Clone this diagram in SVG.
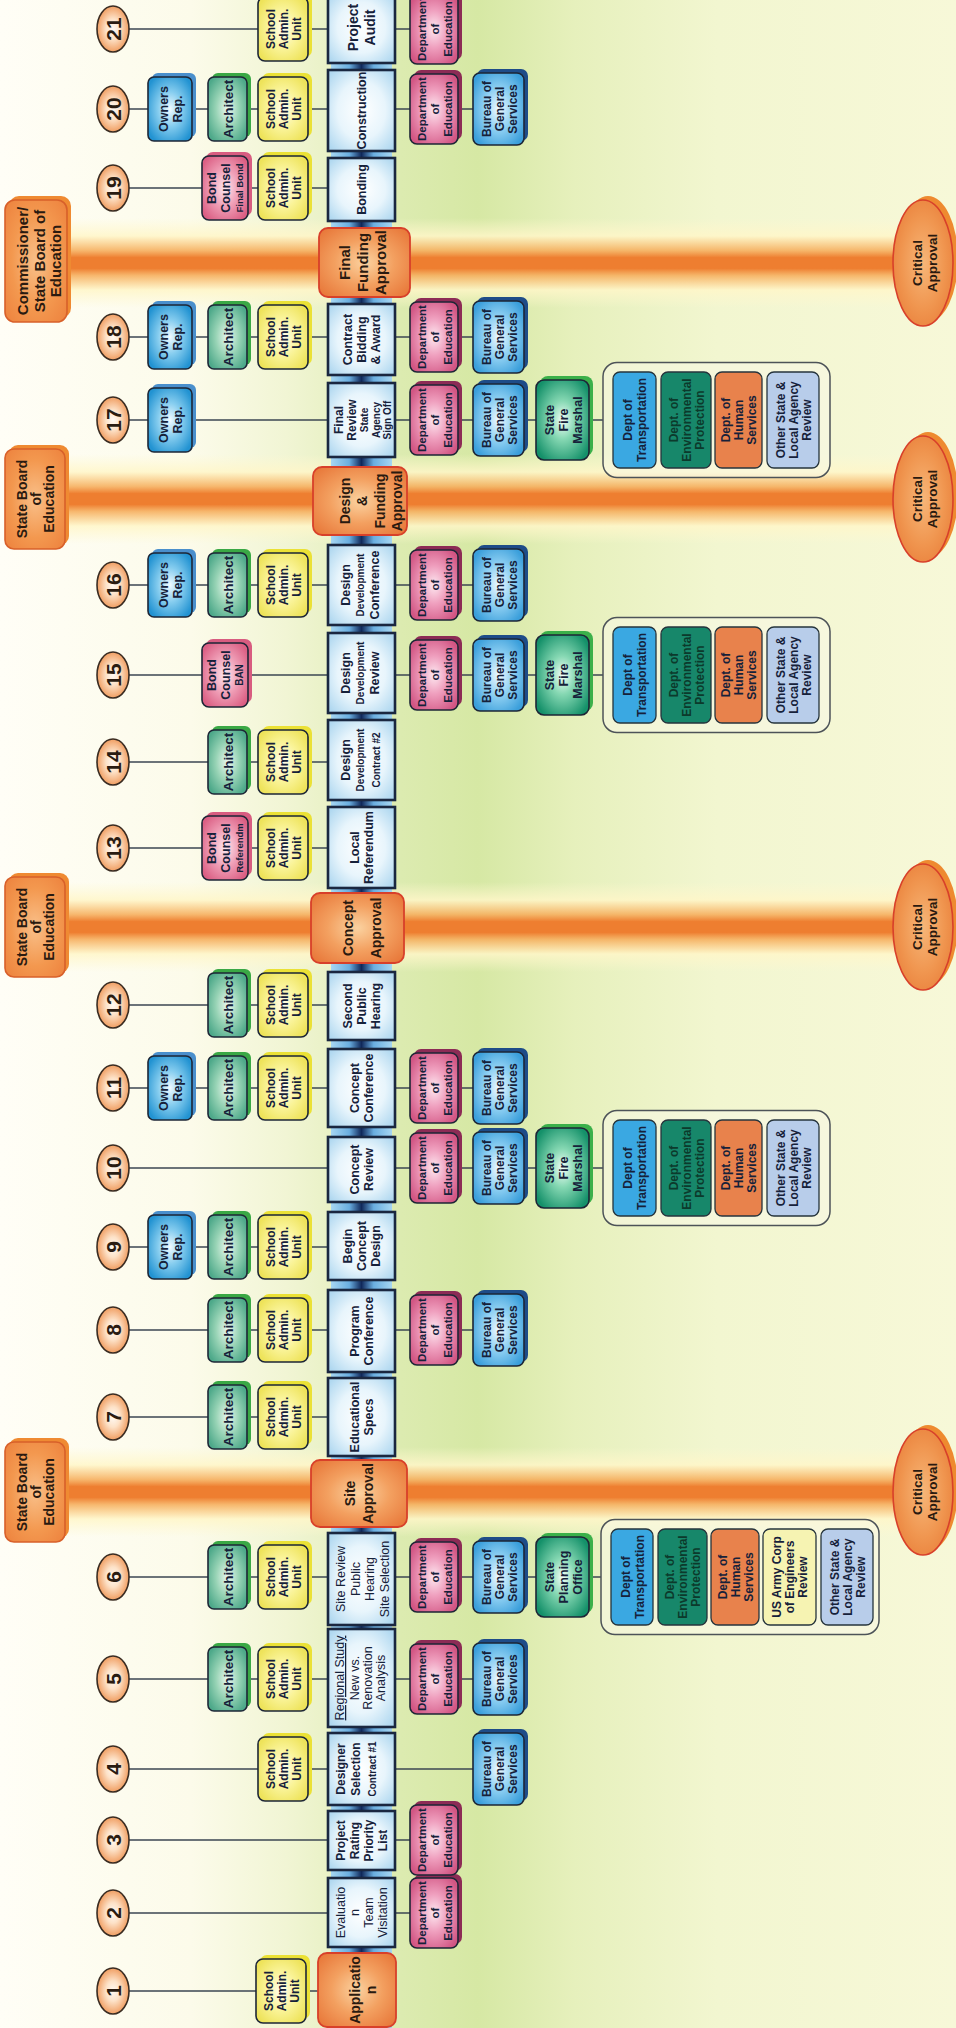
<svg xmlns="http://www.w3.org/2000/svg" width="956" height="2028" viewBox="0 0 956 2028">
<defs>
<style>
.f{font-family:"Liberation Sans",Arial,Helvetica,sans-serif;font-weight:bold;fill:#16213a;text-anchor:middle}
.fn{font-weight:normal}
.z9{font-size:9.5px}.z10{font-size:10px}.z115{font-size:11.5px}.z12{font-size:12px}.z125{font-size:12.5px}.z13{font-size:13.5px}.z14{font-size:14px}.z15{font-size:15px}.z21{font-size:21px}
.ln{stroke:#3b4652;stroke-width:1.6;fill:none}
.bx{stroke:#1d2636;stroke-width:1.6}
.mb{fill:url(#gMain);stroke:#1a2740;stroke-width:2.6}
.ap{fill:url(#gApp);stroke:#d8402a;stroke-width:1.8}
.ov{fill:url(#gOval);stroke:#3a2c22;stroke-width:1.6}
.own{fill:url(#gOwn)}.ownS{fill:#4a8fcc}
.arc{fill:url(#gArc)}.arcS{fill:#3aa845}
.sau{fill:url(#gSau)}.sauS{fill:#ebe135}
.bnd{fill:url(#gBnd)}.bndS{fill:#d85c80}
.doe{fill:url(#gDoe)}.doeS{fill:#8c2b55}
.bgs{fill:url(#gBgs)}.bgsS{fill:#1e4c88}
.sfm{fill:url(#gSfm)}.sfmS{fill:#3bb04a}
.brd{fill:url(#gBrd);stroke:#d8602a;stroke-width:1.6}.brdS{fill:#ef8a32}
.grp{fill:#f7f8e6;fill-opacity:.55;stroke:#4d5358;stroke-width:1.5}
.it{stroke:#26343c;stroke-width:1.3}
.iT{fill:#3aa8e2}.iE{fill:#17876a}.iH{fill:#e8824c}.iU{fill:#f6f3b2}.iO{fill:#b8cdea}
.bar{fill:url(#gBar)}
.crS{fill:#ee8a30}.cr{fill:url(#gCrit);stroke:#d8402a;stroke-width:1.6}
.num{fill:#2a1c12}
.dk{fill:#0c3a2c}
.or{fill:#2a1a10}
</style>
<linearGradient id="bg" x1="0" y1="0" x2="1" y2="0">
<stop offset="0" stop-color="#fffef6"/><stop offset="0.2" stop-color="#fcfbea"/><stop offset="0.3" stop-color="#f1f5d4"/><stop offset="0.42" stop-color="#dcebb0"/><stop offset="0.5" stop-color="#d6e8a4"/><stop offset="0.6" stop-color="#e6f0bc"/><stop offset="0.75" stop-color="#f2f6d0"/><stop offset="1" stop-color="#f7f8d8"/>
</linearGradient>
<linearGradient id="gBar" x1="0" y1="0" x2="1" y2="0">
<stop offset="0" stop-color="#fff8d0" stop-opacity="0"/><stop offset="0.2" stop-color="#fff6c8" stop-opacity="0.85"/><stop offset="0.36" stop-color="#f6b060" stop-opacity="0.9"/><stop offset="0.44" stop-color="#ee7e30"/><stop offset="0.56" stop-color="#ee7e30"/><stop offset="0.64" stop-color="#f6b060" stop-opacity="0.9"/><stop offset="0.8" stop-color="#fff6c8" stop-opacity="0.85"/><stop offset="1" stop-color="#fff8d0" stop-opacity="0"/>
</linearGradient>
<linearGradient id="gPipe" x1="0" y1="0" x2="0" y2="1">
<stop offset="0" stop-color="#a6d6f2"/><stop offset="0.3" stop-color="#6aaee0"/><stop offset="0.5" stop-color="#10285a"/><stop offset="0.7" stop-color="#6aaee0"/><stop offset="1" stop-color="#a6d6f2"/>
</linearGradient>
<radialGradient id="gOwn" r="0.6"><stop offset="0" stop-color="#f2fbff"/><stop offset="0.45" stop-color="#86cdef"/><stop offset="1" stop-color="#2293d2"/></radialGradient>
<radialGradient id="gArc" r="0.6"><stop offset="0" stop-color="#eaf7ef"/><stop offset="0.5" stop-color="#97d3b5"/><stop offset="1" stop-color="#4ea98a"/></radialGradient>
<radialGradient id="gSau" r="0.6"><stop offset="0" stop-color="#fffef0"/><stop offset="0.5" stop-color="#faf49a"/><stop offset="1" stop-color="#eee35a"/></radialGradient>
<radialGradient id="gBnd" r="0.6"><stop offset="0" stop-color="#fde8ef"/><stop offset="0.5" stop-color="#ef9eb6"/><stop offset="1" stop-color="#db5f84"/></radialGradient>
<radialGradient id="gDoe" r="0.6"><stop offset="0" stop-color="#fde9f1"/><stop offset="0.45" stop-color="#ef9fbe"/><stop offset="1" stop-color="#d25684"/></radialGradient>
<radialGradient id="gBgs" r="0.6"><stop offset="0" stop-color="#eff9ff"/><stop offset="0.45" stop-color="#94d3f4"/><stop offset="1" stop-color="#3b9fdb"/></radialGradient>
<radialGradient id="gSfm" r="0.6"><stop offset="0" stop-color="#f4fff9"/><stop offset="0.4" stop-color="#86d8b3"/><stop offset="1" stop-color="#15916a"/></radialGradient>
<radialGradient id="gMain" r="0.65"><stop offset="0" stop-color="#ffffff"/><stop offset="0.55" stop-color="#e8f5fc"/><stop offset="1" stop-color="#b0d8f0"/></radialGradient>
<radialGradient id="gApp" r="0.65"><stop offset="0" stop-color="#fbd2a0"/><stop offset="0.5" stop-color="#f3a060"/><stop offset="1" stop-color="#e8783a"/></radialGradient>
<radialGradient id="gOval" r="0.55"><stop offset="0" stop-color="#fffaf4"/><stop offset="0.4" stop-color="#fde2c8"/><stop offset="1" stop-color="#ee9250"/></radialGradient>
<radialGradient id="gCrit" r="0.6"><stop offset="0" stop-color="#f7b678"/><stop offset="0.6" stop-color="#f09650"/><stop offset="1" stop-color="#e97f3a"/></radialGradient>
<radialGradient id="gBrd" r="0.65"><stop offset="0" stop-color="#f9c08a"/><stop offset="0.6" stop-color="#f3984f"/><stop offset="1" stop-color="#ee8540"/></radialGradient>
</defs>
<rect width="956" height="2028" fill="url(#bg)"/>
<g id="diagram" transform="translate(0,2028) rotate(-90)">

<g id="approval-bars">
<rect class="bar" x="491" y="62" width="90" height="835"/>
<rect class="bar" x="1056" y="62" width="90" height="835"/>
<rect class="bar" x="1484" y="62" width="90" height="835"/>
<rect class="bar" x="1720" y="62" width="90" height="835"/>
</g>

<g id="board-site" transform="translate(536,35)"><rect class="brdS" x="-46" y="-26" width="100" height="60" rx="9"/><rect class="brd" x="-50" y="-30" width="100" height="60" rx="9"/><text class="f z14 or"><tspan x="0" y="-8">State Board</tspan><tspan x="0" y="5.5">of</tspan><tspan x="0" y="19">Education</tspan></text></g>
<g id="board-concept" transform="translate(1101,35)"><rect class="brdS" x="-46" y="-26" width="100" height="60" rx="9"/><rect class="brd" x="-50" y="-30" width="100" height="60" rx="9"/><text class="f z14 or"><tspan x="0" y="-8">State Board</tspan><tspan x="0" y="5.5">of</tspan><tspan x="0" y="19">Education</tspan></text></g>
<g id="board-design" transform="translate(1529,35)"><rect class="brdS" x="-46" y="-26" width="100" height="60" rx="9"/><rect class="brd" x="-50" y="-30" width="100" height="60" rx="9"/><text class="f z14 or"><tspan x="0" y="-8">State Board</tspan><tspan x="0" y="5.5">of</tspan><tspan x="0" y="19">Education</tspan></text></g>
<g id="board-final" transform="translate(1767,36)"><rect class="brdS" x="-57" y="-27" width="122" height="62" rx="10"/><rect class="brd" x="-61" y="-31" width="122" height="62" rx="10"/><text class="f z15 or"><tspan x="0" y="-8">Commissioner/</tspan><tspan x="0" y="8.5">State Board of</tspan><tspan x="0" y="25">Education</tspan></text></g>

<g id="critical-site" transform="translate(536,923)"><ellipse class="crS" cx="4" cy="5" rx="63" ry="30"/><ellipse class="cr" rx="63" ry="30"/><text class="f z13 or"><tspan x="0" y="-1">Critical</tspan><tspan x="0" y="14">Approval</tspan></text></g>
<g id="critical-concept" transform="translate(1101,923)"><ellipse class="crS" cx="4" cy="5" rx="63" ry="30"/><ellipse class="cr" rx="63" ry="30"/><text class="f z13 or"><tspan x="0" y="-1">Critical</tspan><tspan x="0" y="14">Approval</tspan></text></g>
<g id="critical-design" transform="translate(1529,923)"><ellipse class="crS" cx="4" cy="5" rx="63" ry="30"/><ellipse class="cr" rx="63" ry="30"/><text class="f z13 or"><tspan x="0" y="-1">Critical</tspan><tspan x="0" y="14">Approval</tspan></text></g>
<g id="critical-final" transform="translate(1765,923)"><ellipse class="crS" cx="4" cy="5" rx="63" ry="30"/><ellipse class="cr" rx="63" ry="30"/><text class="f z13 or"><tspan x="0" y="-1">Critical</tspan><tspan x="0" y="14">Approval</tspan></text></g>

<g id="connectors">
<rect id="pipe" x="0" y="331" width="2028" height="61" fill="url(#gPipe)"/>
<line class="ln" x1="37" y1="129" x2="37" y2="318"/>
<line class="ln" x1="115" y1="129" x2="115" y2="410"/>
<line class="ln" x1="188" y1="129" x2="188" y2="410"/>
<line class="ln" x1="259" y1="129" x2="259" y2="473"/>
<line class="ln" x1="349" y1="129" x2="349" y2="473"/>
<line class="ln" x1="451" y1="129" x2="451" y2="601"/>
<line class="ln" x1="611" y1="129" x2="611" y2="328"/>
<line class="ln" x1="698" y1="129" x2="698" y2="473"/>
<line class="ln" x1="781" y1="129" x2="781" y2="328"/>
<line class="ln" x1="860" y1="129" x2="860" y2="603"/>
<line class="ln" x1="940" y1="129" x2="940" y2="473"/>
<line class="ln" x1="1023" y1="129" x2="1023" y2="328"/>
<line class="ln" x1="1180" y1="129" x2="1180" y2="328"/>
<line class="ln" x1="1266" y1="129" x2="1266" y2="328"/>
<line class="ln" x1="1353" y1="129" x2="1353" y2="603"/>
<line class="ln" x1="1443" y1="129" x2="1443" y2="473"/>
<line class="ln" x1="1608" y1="129" x2="1608" y2="603"/>
<line class="ln" x1="1691" y1="129" x2="1691" y2="473"/>
<line class="ln" x1="1840" y1="129" x2="1840" y2="328"/>
<line class="ln" x1="1919" y1="129" x2="1919" y2="473"/>
<line class="ln" x1="1999" y1="129" x2="1999" y2="410"/>
</g>

<!-- main column -->
<g id="task-1"><rect class="ap" x="1" y="318" width="74" height="78" rx="9"/><text class="f z14 or"><tspan x="38" y="360">Applicatio</tspan><tspan x="38" y="376">n</tspan></text></g>
<g id="task-2"><rect class="mb" x="81" y="328" width="69" height="67"/><text class="f fn z125"><tspan x="115.5" y="345">Evaluatio</tspan><tspan x="115.5" y="359">n</tspan><tspan x="115.5" y="373">Team</tspan><tspan x="115.5" y="387">Visitation</tspan></text></g>
<g id="task-3"><rect class="mb" x="158" y="328" width="59" height="67"/><text class="f z12"><tspan x="187.5" y="345">Project</tspan><tspan x="187.5" y="359">Rating</tspan><tspan x="187.5" y="373">Priority</tspan><tspan x="187.5" y="387">List</tspan></text></g>
<g id="task-4"><rect class="mb" x="223" y="328" width="72" height="67"/><text class="f z12"><tspan x="259" y="345">Designer</tspan><tspan x="259" y="359.5">Selection</tspan><tspan x="259" y="376" class="z10">Contract #1</tspan></text></g>
<g id="task-5"><rect class="mb" x="301" y="328" width="98" height="67"/><text class="f fn z125"><tspan x="350" y="344" text-decoration="underline">Regional Study</tspan><tspan x="350" y="359">New vs.</tspan><tspan x="350" y="372">Renovation</tspan><tspan x="350" y="385">Analysis</tspan></text></g>
<g id="task-6"><rect class="mb" x="403" y="328" width="92" height="67"/><text class="f fn z125"><tspan x="449" y="345">Site Review</tspan><tspan x="449" y="360">Public</tspan><tspan x="449" y="374">Hearing</tspan><tspan x="449" y="389">Site Selection</tspan></text></g>
<g id="site-approval"><rect class="ap" x="501" y="311" width="67" height="96" rx="9"/><text class="f z14 or"><tspan x="534.5" y="355">Site</tspan><tspan x="534.5" y="373">Approval</tspan></text></g>
<g id="task-7"><rect class="mb" x="572" y="328" width="78" height="67"/><text class="f z125"><tspan x="611" y="359">Educational</tspan><tspan x="611" y="373">Specs</tspan></text></g>
<g id="task-8"><rect class="mb" x="656" y="328" width="82" height="67"/><text class="f z125"><tspan x="697" y="359">Program</tspan><tspan x="697" y="373">Conference</tspan></text></g>
<g id="task-9"><rect class="mb" x="748" y="328" width="68" height="67"/><text class="f z125"><tspan x="782" y="352">Begin</tspan><tspan x="782" y="366">Concept</tspan><tspan x="782" y="380">Design</tspan></text></g>
<g id="task-10"><rect class="mb" x="826" y="328" width="65" height="67"/><text class="f z125"><tspan x="858.5" y="359">Concept</tspan><tspan x="858.5" y="373">Review</tspan></text></g>
<g id="task-11"><rect class="mb" x="901" y="328" width="78" height="67"/><text class="f z125"><tspan x="940" y="359">Concept</tspan><tspan x="940" y="373">Conference</tspan></text></g>
<g id="task-12"><rect class="mb" x="988" y="328" width="68" height="67"/><text class="f z125"><tspan x="1022" y="352">Second</tspan><tspan x="1022" y="366">Public</tspan><tspan x="1022" y="380">Hearing</tspan></text></g>
<g id="concept-approval"><rect class="ap" x="1065" y="311" width="70" height="93" rx="9"/><text class="f z14 or"><tspan x="1100" y="353">Concept</tspan><tspan x="1100" y="381">Approval</tspan></text></g>
<g id="task-13"><rect class="mb" x="1140" y="328" width="81" height="67"/><text class="f z125"><tspan x="1180.5" y="359">Local</tspan><tspan x="1180.5" y="373">Referendum</tspan></text></g>
<g id="task-14"><rect class="mb" x="1228" y="328" width="80" height="67"/><text class="f z125"><tspan x="1268" y="350">Design</tspan><tspan x="1268" y="364" class="z10">Development</tspan><tspan x="1268" y="380" class="z10">Contract  #2</tspan></text></g>
<g id="task-15"><rect class="mb" x="1315" y="328" width="80" height="67"/><text class="f z125"><tspan x="1355" y="350">Design</tspan><tspan x="1355" y="364" class="z10">Development</tspan><tspan x="1355" y="379">Review</tspan></text></g>
<g id="task-16"><rect class="mb" x="1403" y="328" width="80" height="67"/><text class="f z125"><tspan x="1443" y="350">Design</tspan><tspan x="1443" y="364" class="z10">Development</tspan><tspan x="1443" y="379">Conference</tspan></text></g>
<g id="design-funding-approval"><rect class="ap" x="1493" y="313" width="68" height="94" rx="9"/><text class="f z14 or"><tspan x="1527" y="350">Design</tspan><tspan x="1527" y="367">&amp;</tspan><tspan x="1527" y="385">Funding</tspan><tspan x="1527" y="402">Approval</tspan></text></g>
<g id="task-17"><rect class="mb" x="1571" y="328" width="74" height="67"/><text class="f z12"><tspan x="1608" y="343">Final</tspan><tspan x="1608" y="356">Review</tspan><tspan x="1608" y="368" class="z10">State</tspan><tspan x="1608" y="380" class="z10">Agency</tspan><tspan x="1608" y="391" class="z10">Sign Off</tspan></text></g>
<g id="task-18"><rect class="mb" x="1653" y="328" width="71" height="67"/><text class="f z125"><tspan x="1688.5" y="352">Contract</tspan><tspan x="1688.5" y="366">Bidding</tspan><tspan x="1688.5" y="380">&amp; Award</tspan></text></g>
<g id="final-funding-approval"><rect class="ap" x="1731" y="319" width="69" height="91" rx="9"/><text class="f z15 or"><tspan x="1765.5" y="350">Final</tspan><tspan x="1765.5" y="368">Funding</tspan><tspan x="1765.5" y="386">Approval</tspan></text></g>
<g id="task-19"><rect class="mb" x="1807" y="328" width="63" height="67"/><text class="f z125"><tspan x="1838.5" y="366">Bonding</tspan></text></g>
<g id="task-20"><rect class="mb" x="1877" y="328" width="81" height="67"/><text class="f z125"><tspan x="1917.5" y="366">Construction</tspan></text></g>
<g id="task-21"><rect class="mb" x="1965" y="328" width="71" height="67"/><text class="f z14"><tspan x="2000.5" y="358">Project</tspan><tspan x="2000.5" y="375">Audit</tspan></text></g>

<!-- step number ovals -->
<g id="step-1" transform="translate(37,113)"><ellipse class="ov" rx="23" ry="16"/><text class="f z21 num" y="7.5">1</text></g>
<g id="step-2" transform="translate(115,113)"><ellipse class="ov" rx="23" ry="16"/><text class="f z21 num" y="7.5">2</text></g>
<g id="step-3" transform="translate(188,113)"><ellipse class="ov" rx="23" ry="16"/><text class="f z21 num" y="7.5">3</text></g>
<g id="step-4" transform="translate(259,113)"><ellipse class="ov" rx="23" ry="16"/><text class="f z21 num" y="7.5">4</text></g>
<g id="step-5" transform="translate(349,113)"><ellipse class="ov" rx="23" ry="16"/><text class="f z21 num" y="7.5">5</text></g>
<g id="step-6" transform="translate(451,113)"><ellipse class="ov" rx="23" ry="16"/><text class="f z21 num" y="7.5">6</text></g>
<g id="step-7" transform="translate(611,113)"><ellipse class="ov" rx="23" ry="16"/><text class="f z21 num" y="7.5">7</text></g>
<g id="step-8" transform="translate(698,113)"><ellipse class="ov" rx="23" ry="16"/><text class="f z21 num" y="7.5">8</text></g>
<g id="step-9" transform="translate(781,113)"><ellipse class="ov" rx="23" ry="16"/><text class="f z21 num" y="7.5">9</text></g>
<g id="step-10" transform="translate(860,113)"><ellipse class="ov" rx="23" ry="16"/><text class="f z21 num" y="7.5">10</text></g>
<g id="step-11" transform="translate(940,113)"><ellipse class="ov" rx="23" ry="16"/><text class="f z21 num" y="7.5">11</text></g>
<g id="step-12" transform="translate(1023,113)"><ellipse class="ov" rx="23" ry="16"/><text class="f z21 num" y="7.5">12</text></g>
<g id="step-13" transform="translate(1180,113)"><ellipse class="ov" rx="23" ry="16"/><text class="f z21 num" y="7.5">13</text></g>
<g id="step-14" transform="translate(1266,113)"><ellipse class="ov" rx="23" ry="16"/><text class="f z21 num" y="7.5">14</text></g>
<g id="step-15" transform="translate(1353,113)"><ellipse class="ov" rx="23" ry="16"/><text class="f z21 num" y="7.5">15</text></g>
<g id="step-16" transform="translate(1443,113)"><ellipse class="ov" rx="23" ry="16"/><text class="f z21 num" y="7.5">16</text></g>
<g id="step-17" transform="translate(1608,113)"><ellipse class="ov" rx="23" ry="16"/><text class="f z21 num" y="7.5">17</text></g>
<g id="step-18" transform="translate(1691,113)"><ellipse class="ov" rx="23" ry="16"/><text class="f z21 num" y="7.5">18</text></g>
<g id="step-19" transform="translate(1840,113)"><ellipse class="ov" rx="23" ry="16"/><text class="f z21 num" y="7.5">19</text></g>
<g id="step-20" transform="translate(1919,113)"><ellipse class="ov" rx="23" ry="16"/><text class="f z21 num" y="7.5">20</text></g>
<g id="step-21" transform="translate(1999,113)"><ellipse class="ov" rx="23" ry="16"/><text class="f z21 num" y="7.5">21</text></g>

<!-- owners rep -->
<g id="s9-owner" transform="translate(781,170)"><rect class="ownS" x="-28" y="-18" width="64" height="44" rx="6"/><rect class="own bx" x="-32" y="-22" width="64" height="44" rx="6"/><text class="f z125"><tspan x="0" y="-2">Owners</tspan><tspan x="0" y="12">Rep.</tspan></text></g>
<g id="s11-owner" transform="translate(940,170)"><rect class="ownS" x="-28" y="-18" width="64" height="44" rx="6"/><rect class="own bx" x="-32" y="-22" width="64" height="44" rx="6"/><text class="f z125"><tspan x="0" y="-2">Owners</tspan><tspan x="0" y="12">Rep.</tspan></text></g>
<g id="s16-owner" transform="translate(1443,170)"><rect class="ownS" x="-28" y="-18" width="64" height="44" rx="6"/><rect class="own bx" x="-32" y="-22" width="64" height="44" rx="6"/><text class="f z125"><tspan x="0" y="-2">Owners</tspan><tspan x="0" y="12">Rep.</tspan></text></g>
<g id="s17-owner" transform="translate(1608,170)"><rect class="ownS" x="-28" y="-18" width="64" height="44" rx="6"/><rect class="own bx" x="-32" y="-22" width="64" height="44" rx="6"/><text class="f z125"><tspan x="0" y="-2">Owners</tspan><tspan x="0" y="12">Rep.</tspan></text></g>
<g id="s18-owner" transform="translate(1691,170)"><rect class="ownS" x="-28" y="-18" width="64" height="44" rx="6"/><rect class="own bx" x="-32" y="-22" width="64" height="44" rx="6"/><text class="f z125"><tspan x="0" y="-2">Owners</tspan><tspan x="0" y="12">Rep.</tspan></text></g>
<g id="s20-owner" transform="translate(1919,170)"><rect class="ownS" x="-28" y="-18" width="64" height="44" rx="6"/><rect class="own bx" x="-32" y="-22" width="64" height="44" rx="6"/><text class="f z125"><tspan x="0" y="-2">Owners</tspan><tspan x="0" y="12">Rep.</tspan></text></g>

<!-- bond counsel -->
<g id="s13-bond" transform="translate(1180,225)"><rect class="bndS" x="-28" y="-19" width="64" height="46" rx="7"/><rect class="bnd bx" x="-32" y="-23" width="64" height="46" rx="7"/><text class="f z125"><tspan x="0" y="-9">Bond</tspan><tspan x="0" y="4.5">Counsel</tspan><tspan x="0" y="17.5" class="z9">Referendm</tspan></text></g>
<g id="s15-bond" transform="translate(1353,225)"><rect class="bndS" x="-28" y="-19" width="64" height="46" rx="7"/><rect class="bnd bx" x="-32" y="-23" width="64" height="46" rx="7"/><text class="f z125"><tspan x="0" y="-9">Bond</tspan><tspan x="0" y="4.5">Counsel</tspan><tspan x="0" y="17.5" class="z10">BAN</tspan></text></g>
<g id="s19-bond" transform="translate(1840,225)"><rect class="bndS" x="-28" y="-19" width="64" height="46" rx="7"/><rect class="bnd bx" x="-32" y="-23" width="64" height="46" rx="7"/><text class="f z125"><tspan x="0" y="-9">Bond</tspan><tspan x="0" y="4.5">Counsel</tspan><tspan x="0" y="17.5" class="z9">Final Bond</tspan></text></g>

<!-- architect -->
<g id="s5-arch" transform="translate(349,227.5)"><rect class="arcS" x="-28" y="-15.5" width="64" height="39" rx="6"/><rect class="arc bx" x="-32" y="-19.5" width="64" height="39" rx="6"/><text class="f z13" y="5">Architect</text></g>
<g id="s6-arch" transform="translate(451,227.5)"><rect class="arcS" x="-28" y="-15.5" width="64" height="39" rx="6"/><rect class="arc bx" x="-32" y="-19.5" width="64" height="39" rx="6"/><text class="f z13" y="5">Architect</text></g>
<g id="s7-arch" transform="translate(611,227.5)"><rect class="arcS" x="-28" y="-15.5" width="64" height="39" rx="6"/><rect class="arc bx" x="-32" y="-19.5" width="64" height="39" rx="6"/><text class="f z13" y="5">Architect</text></g>
<g id="s8-arch" transform="translate(698,227.5)"><rect class="arcS" x="-28" y="-15.5" width="64" height="39" rx="6"/><rect class="arc bx" x="-32" y="-19.5" width="64" height="39" rx="6"/><text class="f z13" y="5">Architect</text></g>
<g id="s9-arch" transform="translate(781,227.5)"><rect class="arcS" x="-28" y="-15.5" width="64" height="39" rx="6"/><rect class="arc bx" x="-32" y="-19.5" width="64" height="39" rx="6"/><text class="f z13" y="5">Architect</text></g>
<g id="s11-arch" transform="translate(940,227.5)"><rect class="arcS" x="-28" y="-15.5" width="64" height="39" rx="6"/><rect class="arc bx" x="-32" y="-19.5" width="64" height="39" rx="6"/><text class="f z13" y="5">Architect</text></g>
<g id="s12-arch" transform="translate(1023,227.5)"><rect class="arcS" x="-28" y="-15.5" width="64" height="39" rx="6"/><rect class="arc bx" x="-32" y="-19.5" width="64" height="39" rx="6"/><text class="f z13" y="5">Architect</text></g>
<g id="s14-arch" transform="translate(1266,227.5)"><rect class="arcS" x="-28" y="-15.5" width="64" height="39" rx="6"/><rect class="arc bx" x="-32" y="-19.5" width="64" height="39" rx="6"/><text class="f z13" y="5">Architect</text></g>
<g id="s16-arch" transform="translate(1443,227.5)"><rect class="arcS" x="-28" y="-15.5" width="64" height="39" rx="6"/><rect class="arc bx" x="-32" y="-19.5" width="64" height="39" rx="6"/><text class="f z13" y="5">Architect</text></g>
<g id="s18-arch" transform="translate(1691,227.5)"><rect class="arcS" x="-28" y="-15.5" width="64" height="39" rx="6"/><rect class="arc bx" x="-32" y="-19.5" width="64" height="39" rx="6"/><text class="f z13" y="5">Architect</text></g>
<g id="s20-arch" transform="translate(1919,227.5)"><rect class="arcS" x="-28" y="-15.5" width="64" height="39" rx="6"/><rect class="arc bx" x="-32" y="-19.5" width="64" height="39" rx="6"/><text class="f z13" y="5">Architect</text></g>

<!-- school admin unit -->
<g id="s1-sau" transform="translate(37,281)"><rect class="sauS" x="-28" y="-21" width="64" height="50" rx="7"/><rect class="sau bx" x="-32" y="-25" width="64" height="50" rx="7"/><text class="f z12"><tspan x="0" y="-8">School</tspan><tspan x="0" y="5">Admin.</tspan><tspan x="0" y="18">Unit</tspan></text></g>
<g id="s4-sau" transform="translate(259,283)"><rect class="sauS" x="-28" y="-21" width="64" height="50" rx="7"/><rect class="sau bx" x="-32" y="-25" width="64" height="50" rx="7"/><text class="f z12"><tspan x="0" y="-8">School</tspan><tspan x="0" y="5">Admin.</tspan><tspan x="0" y="18">Unit</tspan></text></g>
<g id="s5-sau" transform="translate(349,283)"><rect class="sauS" x="-28" y="-21" width="64" height="50" rx="7"/><rect class="sau bx" x="-32" y="-25" width="64" height="50" rx="7"/><text class="f z12"><tspan x="0" y="-8">School</tspan><tspan x="0" y="5">Admin.</tspan><tspan x="0" y="18">Unit</tspan></text></g>
<g id="s6-sau" transform="translate(451,283)"><rect class="sauS" x="-28" y="-21" width="64" height="50" rx="7"/><rect class="sau bx" x="-32" y="-25" width="64" height="50" rx="7"/><text class="f z12"><tspan x="0" y="-8">School</tspan><tspan x="0" y="5">Admin.</tspan><tspan x="0" y="18">Unit</tspan></text></g>
<g id="s7-sau" transform="translate(611,283)"><rect class="sauS" x="-28" y="-21" width="64" height="50" rx="7"/><rect class="sau bx" x="-32" y="-25" width="64" height="50" rx="7"/><text class="f z12"><tspan x="0" y="-8">School</tspan><tspan x="0" y="5">Admin.</tspan><tspan x="0" y="18">Unit</tspan></text></g>
<g id="s8-sau" transform="translate(698,283)"><rect class="sauS" x="-28" y="-21" width="64" height="50" rx="7"/><rect class="sau bx" x="-32" y="-25" width="64" height="50" rx="7"/><text class="f z12"><tspan x="0" y="-8">School</tspan><tspan x="0" y="5">Admin.</tspan><tspan x="0" y="18">Unit</tspan></text></g>
<g id="s9-sau" transform="translate(781,283)"><rect class="sauS" x="-28" y="-21" width="64" height="50" rx="7"/><rect class="sau bx" x="-32" y="-25" width="64" height="50" rx="7"/><text class="f z12"><tspan x="0" y="-8">School</tspan><tspan x="0" y="5">Admin.</tspan><tspan x="0" y="18">Unit</tspan></text></g>
<g id="s11-sau" transform="translate(940,283)"><rect class="sauS" x="-28" y="-21" width="64" height="50" rx="7"/><rect class="sau bx" x="-32" y="-25" width="64" height="50" rx="7"/><text class="f z12"><tspan x="0" y="-8">School</tspan><tspan x="0" y="5">Admin.</tspan><tspan x="0" y="18">Unit</tspan></text></g>
<g id="s12-sau" transform="translate(1023,283)"><rect class="sauS" x="-28" y="-21" width="64" height="50" rx="7"/><rect class="sau bx" x="-32" y="-25" width="64" height="50" rx="7"/><text class="f z12"><tspan x="0" y="-8">School</tspan><tspan x="0" y="5">Admin.</tspan><tspan x="0" y="18">Unit</tspan></text></g>
<g id="s13-sau" transform="translate(1180,283)"><rect class="sauS" x="-28" y="-21" width="64" height="50" rx="7"/><rect class="sau bx" x="-32" y="-25" width="64" height="50" rx="7"/><text class="f z12"><tspan x="0" y="-8">School</tspan><tspan x="0" y="5">Admin.</tspan><tspan x="0" y="18">Unit</tspan></text></g>
<g id="s14-sau" transform="translate(1266,283)"><rect class="sauS" x="-28" y="-21" width="64" height="50" rx="7"/><rect class="sau bx" x="-32" y="-25" width="64" height="50" rx="7"/><text class="f z12"><tspan x="0" y="-8">School</tspan><tspan x="0" y="5">Admin.</tspan><tspan x="0" y="18">Unit</tspan></text></g>
<g id="s16-sau" transform="translate(1443,283)"><rect class="sauS" x="-28" y="-21" width="64" height="50" rx="7"/><rect class="sau bx" x="-32" y="-25" width="64" height="50" rx="7"/><text class="f z12"><tspan x="0" y="-8">School</tspan><tspan x="0" y="5">Admin.</tspan><tspan x="0" y="18">Unit</tspan></text></g>
<g id="s18-sau" transform="translate(1691,283)"><rect class="sauS" x="-28" y="-21" width="64" height="50" rx="7"/><rect class="sau bx" x="-32" y="-25" width="64" height="50" rx="7"/><text class="f z12"><tspan x="0" y="-8">School</tspan><tspan x="0" y="5">Admin.</tspan><tspan x="0" y="18">Unit</tspan></text></g>
<g id="s19-sau" transform="translate(1840,283)"><rect class="sauS" x="-28" y="-21" width="64" height="50" rx="7"/><rect class="sau bx" x="-32" y="-25" width="64" height="50" rx="7"/><text class="f z12"><tspan x="0" y="-8">School</tspan><tspan x="0" y="5">Admin.</tspan><tspan x="0" y="18">Unit</tspan></text></g>
<g id="s20-sau" transform="translate(1919,283)"><rect class="sauS" x="-28" y="-21" width="64" height="50" rx="7"/><rect class="sau bx" x="-32" y="-25" width="64" height="50" rx="7"/><text class="f z12"><tspan x="0" y="-8">School</tspan><tspan x="0" y="5">Admin.</tspan><tspan x="0" y="18">Unit</tspan></text></g>
<g id="s21-sau" transform="translate(1999,283)"><rect class="sauS" x="-28" y="-21" width="64" height="50" rx="7"/><rect class="sau bx" x="-32" y="-25" width="64" height="50" rx="7"/><text class="f z12"><tspan x="0" y="-8">School</tspan><tspan x="0" y="5">Admin.</tspan><tspan x="0" y="18">Unit</tspan></text></g>

<!-- department of education -->
<g id="s2-doe" transform="translate(115,434)"><rect class="doeS" x="-31" y="-20" width="70" height="48" rx="7"/><rect class="doe bx" x="-35" y="-24" width="70" height="48" rx="7"/><text class="f z115"><tspan x="0" y="-8">Department</tspan><tspan x="0" y="5">of</tspan><tspan x="0" y="18">Education</tspan></text></g>
<g id="s3-doe" transform="translate(188,434)"><rect class="doeS" x="-31" y="-20" width="70" height="48" rx="7"/><rect class="doe bx" x="-35" y="-24" width="70" height="48" rx="7"/><text class="f z115"><tspan x="0" y="-8">Department</tspan><tspan x="0" y="5">of</tspan><tspan x="0" y="18">Education</tspan></text></g>
<g id="s5-doe" transform="translate(349,434)"><rect class="doeS" x="-31" y="-20" width="70" height="48" rx="7"/><rect class="doe bx" x="-35" y="-24" width="70" height="48" rx="7"/><text class="f z115"><tspan x="0" y="-8">Department</tspan><tspan x="0" y="5">of</tspan><tspan x="0" y="18">Education</tspan></text></g>
<g id="s6-doe" transform="translate(451,434)"><rect class="doeS" x="-31" y="-20" width="70" height="48" rx="7"/><rect class="doe bx" x="-35" y="-24" width="70" height="48" rx="7"/><text class="f z115"><tspan x="0" y="-8">Department</tspan><tspan x="0" y="5">of</tspan><tspan x="0" y="18">Education</tspan></text></g>
<g id="s8-doe" transform="translate(698,434)"><rect class="doeS" x="-31" y="-20" width="70" height="48" rx="7"/><rect class="doe bx" x="-35" y="-24" width="70" height="48" rx="7"/><text class="f z115"><tspan x="0" y="-8">Department</tspan><tspan x="0" y="5">of</tspan><tspan x="0" y="18">Education</tspan></text></g>
<g id="s10-doe" transform="translate(860,434)"><rect class="doeS" x="-31" y="-20" width="70" height="48" rx="7"/><rect class="doe bx" x="-35" y="-24" width="70" height="48" rx="7"/><text class="f z115"><tspan x="0" y="-8">Department</tspan><tspan x="0" y="5">of</tspan><tspan x="0" y="18">Education</tspan></text></g>
<g id="s11-doe" transform="translate(940,434)"><rect class="doeS" x="-31" y="-20" width="70" height="48" rx="7"/><rect class="doe bx" x="-35" y="-24" width="70" height="48" rx="7"/><text class="f z115"><tspan x="0" y="-8">Department</tspan><tspan x="0" y="5">of</tspan><tspan x="0" y="18">Education</tspan></text></g>
<g id="s15-doe" transform="translate(1353,434)"><rect class="doeS" x="-31" y="-20" width="70" height="48" rx="7"/><rect class="doe bx" x="-35" y="-24" width="70" height="48" rx="7"/><text class="f z115"><tspan x="0" y="-8">Department</tspan><tspan x="0" y="5">of</tspan><tspan x="0" y="18">Education</tspan></text></g>
<g id="s16-doe" transform="translate(1443,434)"><rect class="doeS" x="-31" y="-20" width="70" height="48" rx="7"/><rect class="doe bx" x="-35" y="-24" width="70" height="48" rx="7"/><text class="f z115"><tspan x="0" y="-8">Department</tspan><tspan x="0" y="5">of</tspan><tspan x="0" y="18">Education</tspan></text></g>
<g id="s17-doe" transform="translate(1608,434)"><rect class="doeS" x="-31" y="-20" width="70" height="48" rx="7"/><rect class="doe bx" x="-35" y="-24" width="70" height="48" rx="7"/><text class="f z115"><tspan x="0" y="-8">Department</tspan><tspan x="0" y="5">of</tspan><tspan x="0" y="18">Education</tspan></text></g>
<g id="s18-doe" transform="translate(1691,434)"><rect class="doeS" x="-31" y="-20" width="70" height="48" rx="7"/><rect class="doe bx" x="-35" y="-24" width="70" height="48" rx="7"/><text class="f z115"><tspan x="0" y="-8">Department</tspan><tspan x="0" y="5">of</tspan><tspan x="0" y="18">Education</tspan></text></g>
<g id="s20-doe" transform="translate(1919,434)"><rect class="doeS" x="-31" y="-20" width="70" height="48" rx="7"/><rect class="doe bx" x="-35" y="-24" width="70" height="48" rx="7"/><text class="f z115"><tspan x="0" y="-8">Department</tspan><tspan x="0" y="5">of</tspan><tspan x="0" y="18">Education</tspan></text></g>
<g id="s21-doe" transform="translate(1999,434)"><rect class="doeS" x="-31" y="-20" width="70" height="48" rx="7"/><rect class="doe bx" x="-35" y="-24" width="70" height="48" rx="7"/><text class="f z115"><tspan x="0" y="-8">Department</tspan><tspan x="0" y="5">of</tspan><tspan x="0" y="18">Education</tspan></text></g>

<!-- bureau of general services -->
<g id="s4-bgs" transform="translate(259,498.5)"><rect class="bgsS" x="-32" y="-21.5" width="72" height="51" rx="7"/><rect class="bgs bx" x="-36" y="-25.5" width="72" height="51" rx="7"/><text class="f z12"><tspan x="0" y="-8">Bureau of</tspan><tspan x="0" y="5">General</tspan><tspan x="0" y="18">Services</tspan></text></g>
<g id="s5-bgs" transform="translate(349,498.5)"><rect class="bgsS" x="-32" y="-21.5" width="72" height="51" rx="7"/><rect class="bgs bx" x="-36" y="-25.5" width="72" height="51" rx="7"/><text class="f z12"><tspan x="0" y="-8">Bureau of</tspan><tspan x="0" y="5">General</tspan><tspan x="0" y="18">Services</tspan></text></g>
<g id="s6-bgs" transform="translate(451,498.5)"><rect class="bgsS" x="-32" y="-21.5" width="72" height="51" rx="7"/><rect class="bgs bx" x="-36" y="-25.5" width="72" height="51" rx="7"/><text class="f z12"><tspan x="0" y="-8">Bureau of</tspan><tspan x="0" y="5">General</tspan><tspan x="0" y="18">Services</tspan></text></g>
<g id="s8-bgs" transform="translate(698,498.5)"><rect class="bgsS" x="-32" y="-21.5" width="72" height="51" rx="7"/><rect class="bgs bx" x="-36" y="-25.5" width="72" height="51" rx="7"/><text class="f z12"><tspan x="0" y="-8">Bureau of</tspan><tspan x="0" y="5">General</tspan><tspan x="0" y="18">Services</tspan></text></g>
<g id="s10-bgs" transform="translate(860,498.5)"><rect class="bgsS" x="-32" y="-21.5" width="72" height="51" rx="7"/><rect class="bgs bx" x="-36" y="-25.5" width="72" height="51" rx="7"/><text class="f z12"><tspan x="0" y="-8">Bureau of</tspan><tspan x="0" y="5">General</tspan><tspan x="0" y="18">Services</tspan></text></g>
<g id="s11-bgs" transform="translate(940,498.5)"><rect class="bgsS" x="-32" y="-21.5" width="72" height="51" rx="7"/><rect class="bgs bx" x="-36" y="-25.5" width="72" height="51" rx="7"/><text class="f z12"><tspan x="0" y="-8">Bureau of</tspan><tspan x="0" y="5">General</tspan><tspan x="0" y="18">Services</tspan></text></g>
<g id="s15-bgs" transform="translate(1353,498.5)"><rect class="bgsS" x="-32" y="-21.5" width="72" height="51" rx="7"/><rect class="bgs bx" x="-36" y="-25.5" width="72" height="51" rx="7"/><text class="f z12"><tspan x="0" y="-8">Bureau of</tspan><tspan x="0" y="5">General</tspan><tspan x="0" y="18">Services</tspan></text></g>
<g id="s16-bgs" transform="translate(1443,498.5)"><rect class="bgsS" x="-32" y="-21.5" width="72" height="51" rx="7"/><rect class="bgs bx" x="-36" y="-25.5" width="72" height="51" rx="7"/><text class="f z12"><tspan x="0" y="-8">Bureau of</tspan><tspan x="0" y="5">General</tspan><tspan x="0" y="18">Services</tspan></text></g>
<g id="s17-bgs" transform="translate(1608,498.5)"><rect class="bgsS" x="-32" y="-21.5" width="72" height="51" rx="7"/><rect class="bgs bx" x="-36" y="-25.5" width="72" height="51" rx="7"/><text class="f z12"><tspan x="0" y="-8">Bureau of</tspan><tspan x="0" y="5">General</tspan><tspan x="0" y="18">Services</tspan></text></g>
<g id="s18-bgs" transform="translate(1691,498.5)"><rect class="bgsS" x="-32" y="-21.5" width="72" height="51" rx="7"/><rect class="bgs bx" x="-36" y="-25.5" width="72" height="51" rx="7"/><text class="f z12"><tspan x="0" y="-8">Bureau of</tspan><tspan x="0" y="5">General</tspan><tspan x="0" y="18">Services</tspan></text></g>
<g id="s20-bgs" transform="translate(1919,498.5)"><rect class="bgsS" x="-32" y="-21.5" width="72" height="51" rx="7"/><rect class="bgs bx" x="-36" y="-25.5" width="72" height="51" rx="7"/><text class="f z12"><tspan x="0" y="-8">Bureau of</tspan><tspan x="0" y="5">General</tspan><tspan x="0" y="18">Services</tspan></text></g>

<!-- state planning office / fire marshal -->
<g id="s6-spo" transform="translate(451,562.5)"><rect class="sfmS" x="-36" y="-22.5" width="80" height="53" rx="8"/><rect class="sfm bx" x="-40" y="-26.5" width="80" height="53" rx="8"/><text class="f z125"><tspan x="0" y="-9">State</tspan><tspan x="0" y="5">Planning</tspan><tspan x="0" y="19">Office</tspan></text></g>
<g id="s10-sfm" transform="translate(860,562.5)"><rect class="sfmS" x="-36" y="-22.5" width="80" height="53" rx="8"/><rect class="sfm bx" x="-40" y="-26.5" width="80" height="53" rx="8"/><text class="f z125"><tspan x="0" y="-9">State</tspan><tspan x="0" y="5">Fire</tspan><tspan x="0" y="19">Marshal</tspan></text></g>
<g id="s15-sfm" transform="translate(1353,562.5)"><rect class="sfmS" x="-36" y="-22.5" width="80" height="53" rx="8"/><rect class="sfm bx" x="-40" y="-26.5" width="80" height="53" rx="8"/><text class="f z125"><tspan x="0" y="-9">State</tspan><tspan x="0" y="5">Fire</tspan><tspan x="0" y="19">Marshal</tspan></text></g>
<g id="s17-sfm" transform="translate(1608,562.5)"><rect class="sfmS" x="-36" y="-22.5" width="80" height="53" rx="8"/><rect class="sfm bx" x="-40" y="-26.5" width="80" height="53" rx="8"/><text class="f z125"><tspan x="0" y="-9">State</tspan><tspan x="0" y="5">Fire</tspan><tspan x="0" y="19">Marshal</tspan></text></g>

<!-- agency review groups -->
<g id="s6-agencies" transform="translate(451,0)">
<rect class="grp" x="-57.5" y="601" width="115" height="278" rx="14"/>
<g id="s6-dot"><rect class="it iT" x="-48" y="611" width="96" height="42" rx="7"/><text class="f z12"><tspan x="0" y="629.5">Dept of</tspan><tspan x="0" y="643.5">Transportation</tspan></text></g>
<g id="s6-dep"><rect class="it iE" x="-48" y="658" width="96" height="49" rx="7"/><text class="f z12 dk"><tspan x="0" y="674">Dept. of</tspan><tspan x="0" y="687">Environmental</tspan><tspan x="0" y="700">Protection</tspan></text></g>
<g id="s6-dhs"><rect class="it iH" x="-48" y="711" width="96" height="48" rx="7"/><text class="f z12"><tspan x="0" y="726.5">Dept. of</tspan><tspan x="0" y="739.5">Human</tspan><tspan x="0" y="752.5">Services</tspan></text></g>
<g id="s6-usace"><rect class="it iU" x="-48" y="763" width="96" height="53" rx="7"/><text class="f z12"><tspan x="0" y="781">US Army Corp</tspan><tspan x="0" y="794">of Engineers</tspan><tspan x="0" y="807">Review</tspan></text></g>
<g id="s6-other"><rect class="it iO" x="-48" y="821" width="96" height="52" rx="7"/><text class="f z12"><tspan x="0" y="838.5">Other State &amp;</tspan><tspan x="0" y="851.5">Local Agency</tspan><tspan x="0" y="864.5">Review</tspan></text></g>
</g>
<g id="s10-agencies" transform="translate(860,0)">
<rect class="grp" x="-57.5" y="603" width="115" height="227" rx="14"/>
<g id="s10-dot"><rect class="it iT" x="-48" y="613" width="96" height="43" rx="7"/><text class="f z12"><tspan x="0" y="632">Dept of</tspan><tspan x="0" y="646">Transportation</tspan></text></g>
<g id="s10-dep"><rect class="it iE" x="-48" y="661" width="96" height="50" rx="7"/><text class="f z12 dk"><tspan x="0" y="677.5">Dept. of</tspan><tspan x="0" y="690.5">Environmental</tspan><tspan x="0" y="703.5">Protection</tspan></text></g>
<g id="s10-dhs"><rect class="it iH" x="-48" y="715" width="96" height="47" rx="7"/><text class="f z12"><tspan x="0" y="730">Dept. of</tspan><tspan x="0" y="743">Human</tspan><tspan x="0" y="756">Services</tspan></text></g>
<g id="s10-other"><rect class="it iO" x="-48" y="767" width="96" height="52" rx="7"/><text class="f z12"><tspan x="0" y="784.5">Other State &amp;</tspan><tspan x="0" y="797.5">Local Agency</tspan><tspan x="0" y="810.5">Review</tspan></text></g>
</g>
<g id="s15-agencies" transform="translate(1353,0)">
<rect class="grp" x="-57.5" y="603" width="115" height="227" rx="14"/>
<g id="s15-dot"><rect class="it iT" x="-48" y="613" width="96" height="43" rx="7"/><text class="f z12"><tspan x="0" y="632">Dept of</tspan><tspan x="0" y="646">Transportation</tspan></text></g>
<g id="s15-dep"><rect class="it iE" x="-48" y="661" width="96" height="50" rx="7"/><text class="f z12 dk"><tspan x="0" y="677.5">Dept. of</tspan><tspan x="0" y="690.5">Environmental</tspan><tspan x="0" y="703.5">Protection</tspan></text></g>
<g id="s15-dhs"><rect class="it iH" x="-48" y="715" width="96" height="47" rx="7"/><text class="f z12"><tspan x="0" y="730">Dept. of</tspan><tspan x="0" y="743">Human</tspan><tspan x="0" y="756">Services</tspan></text></g>
<g id="s15-other"><rect class="it iO" x="-48" y="767" width="96" height="52" rx="7"/><text class="f z12"><tspan x="0" y="784.5">Other State &amp;</tspan><tspan x="0" y="797.5">Local Agency</tspan><tspan x="0" y="810.5">Review</tspan></text></g>
</g>
<g id="s17-agencies" transform="translate(1608,0)">
<rect class="grp" x="-57.5" y="603" width="115" height="227" rx="14"/>
<g id="s17-dot"><rect class="it iT" x="-48" y="613" width="96" height="43" rx="7"/><text class="f z12"><tspan x="0" y="632">Dept of</tspan><tspan x="0" y="646">Transportation</tspan></text></g>
<g id="s17-dep"><rect class="it iE" x="-48" y="661" width="96" height="50" rx="7"/><text class="f z12 dk"><tspan x="0" y="677.5">Dept. of</tspan><tspan x="0" y="690.5">Environmental</tspan><tspan x="0" y="703.5">Protection</tspan></text></g>
<g id="s17-dhs"><rect class="it iH" x="-48" y="715" width="96" height="47" rx="7"/><text class="f z12"><tspan x="0" y="730">Dept. of</tspan><tspan x="0" y="743">Human</tspan><tspan x="0" y="756">Services</tspan></text></g>
<g id="s17-other"><rect class="it iO" x="-48" y="767" width="96" height="52" rx="7"/><text class="f z12"><tspan x="0" y="784.5">Other State &amp;</tspan><tspan x="0" y="797.5">Local Agency</tspan><tspan x="0" y="810.5">Review</tspan></text></g>
</g>
</g>
</svg>
